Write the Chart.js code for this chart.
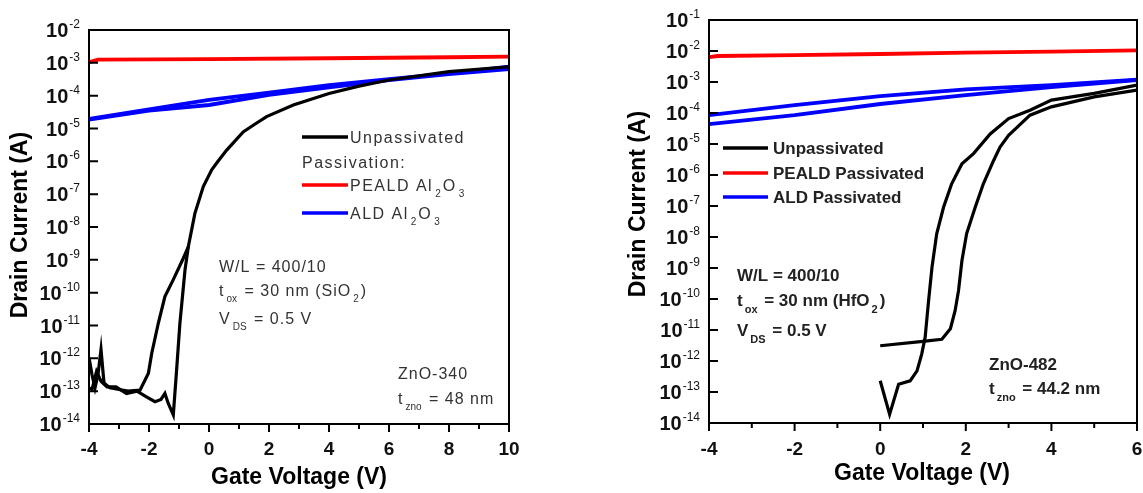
<!DOCTYPE html>
<html>
<head>
<meta charset="utf-8">
<script src="https://cdn.jsdelivr.net/npm/chart.js@4"></script>
<style>
  body { margin: 0; background: #fff; width: 1143px; height: 493px; position: relative; overflow: hidden; }
  canvas { position: absolute; top: 0; }
</style>
</head>
<body>
<canvas id="left" width="560" height="493" style="left:0"></canvas>
<canvas id="right" width="523" height="493" style="left:620px"></canvas>
<script>
// ---- left panel: ZnO-340, SiO2 gate ----
const leftXTicks = [-4, -2, 0, 2, 4, 6, 8, 10];
const leftXMinor = [-3, -1, 1, 3, 5, 7, 9];
const leftYExps = [-2, -3, -4, -5, -6, -7, -8, -9, -10, -11, -12, -13, -14];

const leftUnpassAV = [-4.0, -3.9, -3.75, -3.6, -3.4, -3.1, -2.75, -2.4, -2.1, -1.8, -1.6, -1.47, -1.36, -1.19, -1.08, -0.97, -0.8, -0.69, -0.47, -0.19, 0.09, 0.3, 0.59, 1.14, 1.5, 1.92, 2.81, 4, 5, 6, 8, 10];
const leftUnpassAI = [1.26e-13, 1.12e-13, 3.98e-13, 2.0e-13, 1.35e-13, 1.35e-13, 8.5e-14, 1.0e-13, 6.8e-14, 4.8e-14, 5.6e-14, 8.5e-14, 4.3e-14, 1.9e-14, 4.4e-13, 1.17e-11, 4.9e-10, 2.5e-9, 2.6e-8, 1.7e-7, 5.5e-7, 1.0e-6, 2.2e-6, 7.9e-6, 1.3e-5, 2.3e-5, 5.2e-5, 1.17e-4, 1.95e-4, 3.0e-4, 5.4e-4, 7.6e-4];
const leftUnpassBV = [-4.0, -3.9, -3.8, -3.7, -3.6, -3.5, -3.3, -3.0, -2.7, -2.3, -2.02, -1.91, -1.69, -1.47, -1.19, -0.86, -0.69];
const leftUnpassBI = [1.05e-12, 3.2e-13, 1.26e-13, 3.2e-13, 1.86e-12, 1.78e-13, 1.26e-13, 1.12e-13, 1.0e-13, 1.07e-13, 3.5e-13, 1.41e-12, 1.17e-11, 7.6e-11, 2.5e-10, 1.1e-9, 2.5e-9];
const leftPealdV = [-4, -3.7, 0, 4, 8, 10];
const leftPealdI = [1.05e-3, 1.25e-3, 1.3e-3, 1.38e-3, 1.48e-3, 1.55e-3];
const leftAldV = [-4, -2, 0, 2, 4, 6, 8, 10];
const leftAldUpI = [1.95e-5, 3.8e-5, 7.4e-5, 1.23e-4, 2.1e-4, 3.2e-4, 4.8e-4, 7.6e-4];
const leftAldDnI = [1.86e-5, 3.5e-5, 5.2e-5, 1.05e-4, 1.78e-4, 3.0e-4, 4.5e-4, 6.5e-4];

// ---- right panel: ZnO-482, HfO2 gate ----
const rightXTicks = [-4, -2, 0, 2, 4, 6];
const rightXMinor = [-3, -1, 1, 3, 5];
const rightYExps = [-1, -2, -3, -4, -5, -6, -7, -8, -9, -10, -11, -12, -13, -14];

const rightUnpassAV = [0, 1.0, 1.44, 1.64, 1.75, 1.83, 1.91, 2.02, 2.22, 2.41, 2.65, 2.8, 3.0, 3.5, 4, 5, 6];
const rightUnpassAI = [3.1e-12, 4.3e-12, 5.0e-12, 1.1e-11, 4.2e-11, 1.86e-10, 1.74e-9, 1.29e-8, 9.1e-8, 5.2e-7, 2.95e-6, 7.9e-6, 1.9e-5, 8.5e-5, 1.58e-4, 3.3e-4, 5.5e-4];
const rightUnpassBV = [0, 0.22, 0.43, 0.70, 0.86, 0.97, 1.05, 1.13, 1.21, 1.32, 1.48, 1.67, 1.91, 2.18, 2.57, 3.0, 3.5, 4.0, 5.0, 6.0];
const rightUnpassBI = [2.3e-13, 1.9e-14, 1.78e-13, 2.3e-13, 4.8e-13, 1.66e-12, 5.8e-12, 8.7e-11, 1.05e-9, 1.26e-8, 9.1e-8, 5.2e-7, 2.3e-6, 4.9e-6, 2.1e-5, 6.6e-5, 1.23e-4, 2.6e-4, 4.3e-4, 7.9e-4];
const rightPealdV = [-4, -3.8, -2, 0, 2, 4, 6];
const rightPealdI = [6.3e-3, 6.9e-3, 7.4e-3, 8.0e-3, 8.8e-3, 9.6e-3, 1.05e-2];
const rightAldV = [-4, -2, 0, 2, 4, 6];
const rightAldUpI = [8.5e-5, 1.78e-4, 3.5e-4, 5.8e-4, 7.9e-4, 1.2e-3];
const rightAldDnI = [4.4e-5, 8.5e-5, 1.95e-4, 3.8e-4, 6.8e-4, 1.15e-3];

const FONT = '"Liberation Sans", Arial, sans-serif';

function zip(v, i) {
  return v.map((x, k) => ({ x: x, y: i[k] }));
}

function line(data, color, w) {
  return { data: data, showLine: true, borderColor: color, backgroundColor: color,
           borderWidth: w, pointRadius: 0, fill: false, tension: 0 };
}

// draw text made of parts; parts starting with "_" are subscripts
function rich(ctx, x, y, parts, size, weight, spacing, color) {
  ctx.save();
  ctx.fillStyle = color;
  ctx.textAlign = 'left';
  ctx.textBaseline = 'alphabetic';
  const base = y + size * 0.36;
  let cx = x;
  parts.forEach(p => {
    const sub = p[0] === '_';
    const t = sub ? p.slice(1) : p;
    const fs = sub ? Math.round(size * 0.62) : size;
    ctx.font = weight + ' ' + fs + 'px ' + FONT;
    ctx.letterSpacing = (sub ? 0 : spacing) + 'px';
    if (sub) cx += 2;
    ctx.fillText(t, cx, sub ? base + size * 0.42 : base);
    cx += ctx.measureText(t).width + (sub ? 2 : 0);
  });
  ctx.restore();
}

const decor = {
  id: 'decor',
  afterDatasetsDraw(chart, args, o) {
    const ctx = chart.ctx, a = chart.chartArea;
    const xs = chart.scales.x, ys = chart.scales.y;
    ctx.save();
    ctx.strokeStyle = '#000';
    ctx.lineWidth = 2;
    ctx.strokeRect(a.left, a.top, a.right - a.left, a.bottom - a.top);

    // x ticks point down, outside
    ctx.beginPath();
    o.xTicks.forEach(v => { const p = xs.getPixelForValue(v); ctx.moveTo(p, a.bottom); ctx.lineTo(p, a.bottom + 8); });
    o.xMinor.forEach(v => { const p = xs.getPixelForValue(v); ctx.moveTo(p, a.bottom); ctx.lineTo(p, a.bottom + 5); });
    // y ticks point inside
    o.yExps.forEach(e => { const p = ys.getPixelForValue(Math.pow(10, e)); ctx.moveTo(a.left, p); ctx.lineTo(a.left + 9, p); });
    ctx.stroke();

    // x tick labels
    ctx.fillStyle = '#111';
    ctx.font = 'bold 19px ' + FONT;
    ctx.textAlign = 'center';
    ctx.textBaseline = 'alphabetic';
    o.xTicks.forEach(v => ctx.fillText(String(v), xs.getPixelForValue(v), 455));

    // y tick labels 10^e
    o.yExps.forEach(e => {
      const p = ys.getPixelForValue(Math.pow(10, e));
      const ex = String(e);
      ctx.textAlign = 'right';
      ctx.font = '12px ' + FONT;
      const r = a.left - 9;
      ctx.fillText(ex, r, p - 2);
      const w = ctx.measureText(ex).width;
      ctx.font = 'bold 20px ' + FONT;
      ctx.fillText('10', r - w - 1, p + 7);
    });

    // axis titles
    ctx.fillStyle = '#000';
    ctx.font = 'bold 23px ' + FONT;
    ctx.textAlign = 'center';
    ctx.fillText('Gate Voltage (V)', o.xTitle[0], o.xTitle[1]);
    ctx.save();
    ctx.translate(o.yTitle[0], o.yTitle[1]);
    ctx.rotate(-Math.PI / 2);
    ctx.textBaseline = 'middle';
    ctx.fillText('Drain Current (A)', 0, 0);
    ctx.restore();

    // legend
    const lg = o.legend;
    lg.items.forEach(it => {
      if (it.color) {
        ctx.strokeStyle = it.color;
        ctx.lineWidth = 3.5;
        ctx.beginPath();
        ctx.moveTo(lg.x0, it.y);
        ctx.lineTo(lg.x1, it.y);
        ctx.stroke();
      }
      rich(ctx, it.color ? lg.tx : lg.x0, it.y, it.parts, lg.size, lg.weight, lg.spacing, lg.textColor);
    });

    // notes
    o.notes.forEach(n => rich(ctx, n.x, n.y, n.parts, o.noteSize, o.noteWeight, o.noteSpacing, o.noteColor));
    ctx.restore();
  }
};

function makeChart(id, cfg) {
  return new Chart(document.getElementById(id), {
    type: 'scatter',
    data: { datasets: cfg.datasets },
    options: {
      responsive: false,
      animation: false,
      layout: { padding: cfg.padding },
      plugins: { legend: { display: false }, tooltip: { enabled: false }, decor: cfg.decor },
      scales: {
        x: { type: 'linear', min: cfg.xMin, max: cfg.xMax, display: false },
        y: { type: 'logarithmic', min: cfg.yMin, max: cfg.yMax, display: false }
      }
    },
    plugins: [decor]
  });
}

makeChart('left', {
  xMin: -4, xMax: 10, yMin: 1e-14, yMax: 1e-2,
  padding: { left: 89, top: 30, right: 51, bottom: 69 },
  datasets: [
    line(zip(leftUnpassAV, leftUnpassAI), '#000', 3.2),
    line(zip(leftUnpassBV, leftUnpassBI), '#000', 3.2),
    line(zip(leftAldV, leftAldUpI), '#0000ff', 3.8),
    line(zip(leftAldV, leftAldDnI), '#0000ff', 3.8),
    line(zip(leftPealdV, leftPealdI), '#ff0000', 3.8)
  ],
  decor: {
    xTicks: leftXTicks, xMinor: leftXMinor, yExps: leftYExps,
    xTitle: [299, 484], yTitle: [21, 225],
    legend: {
      x0: 302, x1: 348, tx: 350, size: 16, weight: 'normal', spacing: 1.5, textColor: '#333',
      items: [
        { y: 137, color: '#000', parts: ['Unpassivated'] },
        { y: 162, color: null, parts: ['Passivation:'] },
        { y: 185, color: '#ff0000', parts: ['PEALD Al', '_2', 'O', '_3'] },
        { y: 213, color: '#0000ff', parts: ['ALD Al', '_2', 'O', '_3'] }
      ]
    },
    noteSize: 16, noteWeight: 'normal', noteSpacing: 1, noteColor: '#333',
    notes: [
      { x: 219, y: 266, parts: ['W/L = 400/10'] },
      { x: 219, y: 290, parts: ['t', '_ox', ' = 30 nm (SiO', '_2', ')'] },
      { x: 219, y: 318, parts: ['V', '_DS', ' = 0.5 V'] },
      { x: 398, y: 373, parts: ['ZnO-340'] },
      { x: 398, y: 398, parts: ['t', '_zno', ' = 48 nm'] }
    ]
  }
});

makeChart('right', {
  xMin: -4, xMax: 6, yMin: 1e-14, yMax: 1e-1,
  padding: { left: 89, top: 20, right: 6, bottom: 70 },
  datasets: [
    line(zip(rightUnpassAV, rightUnpassAI), '#000', 3.2),
    line(zip(rightUnpassBV, rightUnpassBI), '#000', 3.2),
    line(zip(rightAldV, rightAldUpI), '#0000ff', 3.8),
    line(zip(rightAldV, rightAldDnI), '#0000ff', 3.8),
    line(zip(rightPealdV, rightPealdI), '#ff0000', 3.8)
  ],
  decor: {
    xTicks: rightXTicks, xMinor: rightXMinor, yExps: rightYExps,
    xTitle: [302, 480], yTitle: [19, 204],
    legend: {
      x0: 103, x1: 148, tx: 153, size: 17, weight: 'bold', spacing: 0, textColor: '#222',
      items: [
        { y: 148, color: '#000', parts: ['Unpassivated'] },
        { y: 173, color: '#ff0000', parts: ['PEALD Passivated'] },
        { y: 197, color: '#0000ff', parts: ['ALD Passivated'] }
      ]
    },
    noteSize: 17, noteWeight: 'bold', noteSpacing: 0, noteColor: '#222',
    notes: [
      { x: 117, y: 275, parts: ['W/L = 400/10'] },
      { x: 117, y: 300, parts: ['t', '_ox', ' = 30 nm (HfO', '_2', ')'] },
      { x: 117, y: 330, parts: ['V', '_DS', ' = 0.5 V'] },
      { x: 369, y: 364, parts: ['ZnO-482'] },
      { x: 369, y: 388, parts: ['t', '_zno', ' = 44.2 nm'] }
    ]
  }
});
</script>
</body>
</html>
